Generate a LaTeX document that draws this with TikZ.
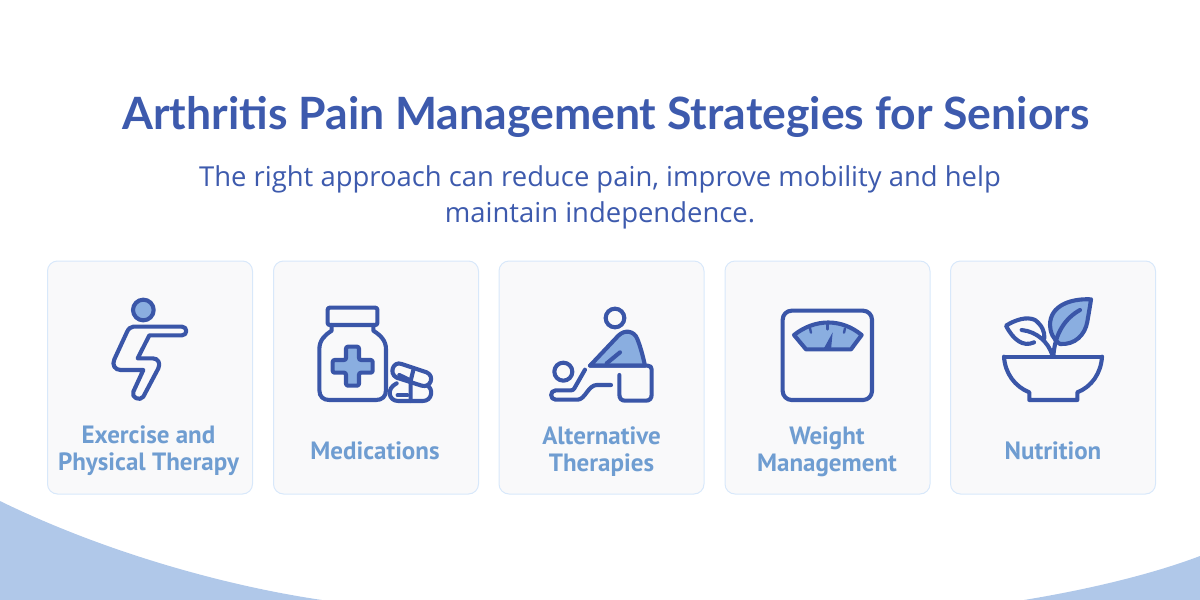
\documentclass[tikz,border=0pt]{standalone}
\usepackage{fontspec}
\setmainfont{Open Sans}
\newfontfamily\titlefont{Lato}
\newfontfamily\labelfont{PT Sans}
\definecolor{headblue}{RGB}{61, 90, 173}
\definecolor{lineblue}{RGB}{58, 86, 168}
\definecolor{softblue}{RGB}{138, 174, 224}
\definecolor{labelblue}{RGB}{111, 157, 209}
\definecolor{waveblue}{RGB}{176, 200, 233}
\definecolor{cardgray}{RGB}{249, 249, 250}
\definecolor{cardedge}{RGB}{216, 232, 250}
\tikzset{
    titletext/.style={text=headblue, font=\titlefont\bfseries\fontsize{22.26}{26}\selectfont},
    subtext/.style={text=headblue, align=center, font=\fontsize{13.72}{18}\selectfont},
    cardbox/.style={rectangle, rounded corners=5pt, draw=cardedge, fill=cardgray, line width=0.5pt,
                    minimum width=102.5pt, minimum height=116.5pt},
    cardtext/.style={text=labelblue, align=center, font=\labelfont\bfseries\fontsize{12.5}{13.5}\selectfont},
    iconline/.style={draw=lineblue, line width=2.05pt, line join=round, line cap=round},
    iconfill/.style={iconline, fill=softblue},
    icongrid/.style={x=0.16667pt, y=-0.16667pt},
}
\begin{document}
\begin{tikzpicture}[x=0.5pt, y=-0.5pt]
    \useasboundingbox (0,0) rectangle (1200,600);
    % background waves
    \fill[waveblue] (0,501) .. controls (100,550) and (220,585) .. (322,600) -- (0,600) -- cycle;
    \fill[waveblue] (1024,600) .. controls (1085,590) and (1150,575) .. (1200,556) -- (1200,600) -- cycle;

    \node[titletext] (title) at (606,117) {Arthritis Pain Management Strategies for Seniors};
    \node[subtext] (subtitle) at (600,197) {The right approach can reduce pain, improve mobility and help\\maintain independence.};

    \node[cardbox] (exercise) at (150,377.5) {};
    \node[cardbox] (medication) at (376,377.5) {};
    \node[cardbox] (therapy) at (601.5,377.5) {};
    \node[cardbox] (weight) at (827.5,377.5) {};
    \node[cardbox] (nutrition) at (1053,377.5) {};

    \node[cardtext] (exerciselabel) at (148.5,451) {Exercise and\\Physical Therapy};
    \node[cardtext] (medicationlabel) at (375,451) {Medications};
    \node[cardtext] (therapylabel) at (601.5,452) {Alternative\\Therapies};
    \node[cardtext] (weightlabel) at (827,452) {Weight\\Management};
    \node[cardtext] (nutritionlabel) at (1053,451) {Nutrition};

    % exercise icon
    \begin{scope}[shift={(100,290)}, icongrid]
        \draw[iconfill] (130,60) circle (31);
        \draw[iconline] (100,110) -- (246,110) arc[start angle=90, end angle=-90, x radius=13, y radius=-13]
            -- (148,136) -- (113,205) -- (158,205) .. controls (175,205) and (182,220) .. (175,235)
            -- (130,320) .. controls (120,335) and (92,322) .. (100,305) -- (130,240) -- (62,240)
            .. controls (45,240) and (35,225) .. (43,208) -- (80,128) .. controls (85,116) and (92,110) .. (100,110) -- cycle;
    \end{scope}

    % medication icon
    \begin{scope}[shift={(300,290)}, icongrid]
        \draw[iconline, rounded corners=1pt] (83,53) rectangle (232,105);
        \draw[iconline] (95,105) -- (95,122) .. controls (75,135) and (58,150) .. (58,178) -- (58,300)
            .. controls (58,320) and (70,330) .. (88,330) -- (228,330) .. controls (246,330) and (258,320) .. (258,300)
            -- (258,178) .. controls (258,150) and (240,135) .. (220,122) -- (220,105);
        \draw[iconfill, rounded corners=1pt] (138,170) -- (177,170) -- (177,210) -- (218,210) -- (218,248) -- (177,248)
            -- (177,287) -- (138,287) -- (138,248) -- (98,248) -- (98,210) -- (138,210) -- cycle;
        \draw[iconline] (305,222) -- (380,247) .. controls (405,258) and (392,295) .. (365,287) -- (290,263)
            .. controls (265,250) and (280,212) .. (305,222) -- cycle;
        \draw[iconline] (290,280) .. controls (258,295) and (265,333) .. (295,333) -- (368,333)
            .. controls (398,333) and (400,295) .. (382,287);
        \draw[iconline] (298,255) -- (325,268);
        \draw[iconline] (340,240) -- (332,272) -- (332,333);
        \draw[iconline] (293,316) -- (322,316);
    \end{scope}

    % therapy icon
    \begin{scope}[shift={(535,295)}, icongrid]
        \draw[iconline] (240,69) circle (28);
        \draw[iconline] (85,230) circle (27);
        \draw[iconfill] (165,212) -- (250,122) .. controls (270,102) and (298,108) .. (307,132) .. controls (318,160) and (324,185) .. (330,212) -- cycle;
        \draw[iconline] (215,205) -- (255,172);
        \draw[iconline] (165,212) -- (338,212) .. controls (346,212) and (350,216) .. (350,224) -- (350,298)
            .. controls (350,310) and (344,317) .. (333,317) -- (270,317) .. controls (259,317) and (253,310) .. (253,298) -- (253,240);
        \draw[iconline] (150,224) -- (118,280) .. controls (115,285) and (112,286) .. (108,286) -- (62,286)
            .. controls (44,286) and (44,314) .. (62,314) -- (128,314) .. controls (150,314) and (160,270) .. (185,270) -- (228,270);
    \end{scope}

    % weight icon
    \begin{scope}[shift={(770,300)}, icongrid]
        \draw[iconline, rounded corners=4.5pt] (38,32) rectangle (306,300);
        \draw[iconfill] (72,105) .. controls (135,55) and (215,55) .. (275,105) -- (243,148) -- (108,148) -- cycle;
        \draw[iconline, line width=1.2pt] (120,85) -- (123,98);
        \draw[iconline, line width=1.2pt] (172,72) -- (172,88);
        \draw[iconline, line width=1.2pt] (225,85) -- (222,98);
        \fill[lineblue] (188,97) -- (160,148) -- (183,148) -- cycle;
    \end{scope}

    % nutrition icon
    \begin{scope}[shift={(990,290)}, icongrid]
        \draw[iconfill] (303,28) .. controls (245,25) and (180,45) .. (180,105) .. controls (180,125) and (190,150) .. (210,162)
            .. controls (255,165) and (285,135) .. (292,95) .. controls (296,70) and (300,50) .. (303,28) -- cycle;
        \draw[iconline] (270,60) .. controls (225,85) and (195,130) .. (190,198);
        \draw[iconline] (132,157) .. controls (100,172) and (70,150) .. (48,107) .. controls (75,90) and (110,78) .. (135,90)
            .. controls (155,105) and (165,125) .. (163,145);
        \draw[iconline] (95,120) .. controls (140,125) and (175,155) .. (188,198);
        \draw[iconline] (45,200) -- (336,200);
        \draw[iconline] (42,200) .. controls (45,250) and (75,290) .. (118,307) -- (118,330) -- (262,330) -- (262,307)
            .. controls (305,290) and (333,250) .. (336,200);
    \end{scope}
\end{tikzpicture}
\end{document}
